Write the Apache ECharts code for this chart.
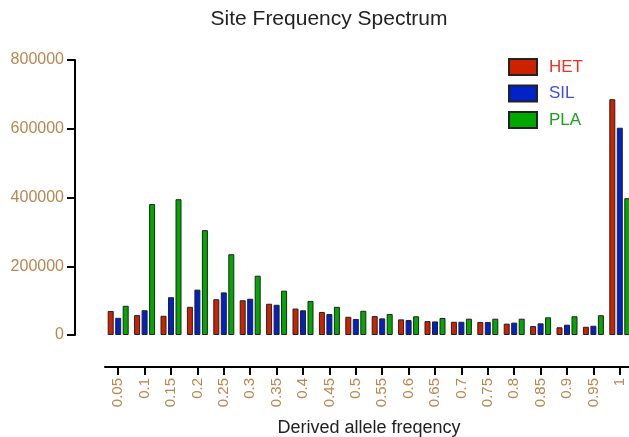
<!DOCTYPE html>
<html>
<head>
<meta charset="utf-8">
<script src="https://cdn.jsdelivr.net/npm/echarts@6/dist/echarts.min.js"></script>
<style>
html,body{margin:0;padding:0;background:#fff;}
#chart{width:629px;height:437px;}
</style>
</head>
<body>
<div id="chart"></div>
<script>
const categories = ['0.05','0.1','0.15','0.2','0.25','0.3','0.35','0.4','0.45','0.5','0.55','0.6','0.65','0.7','0.75','0.8','0.85','0.9','0.95','1'];
const het = [70000, 58000, 56000, 82000, 104000, 101000, 91000, 77000, 67000, 53000, 55000, 45500, 40500, 38500, 38000, 33000, 26000, 22500, 24000, 686000];
const sil = [50000, 72000, 110000, 132000, 124000, 105500, 88000, 72000, 61000, 46500, 48500, 43500, 39500, 38500, 38000, 36000, 34000, 30000, 27000, 603000];
const pla = [85000, 381000, 395000, 305000, 235000, 172500, 129000, 99000, 82000, 70500, 61000, 54500, 49500, 47500, 47500, 47500, 51500, 54500, 57500, 398000];
const yTicks = [0, 200000, 400000, 600000, 800000];

const font = 'Liberation Sans, Arial, Helvetica, sans-serif';
const tan = '#b9864f';
const chart = echarts.init(document.getElementById('chart'), null, {renderer: 'canvas'});

function barSeries(name, data, color) {
  return {
    name: name,
    type: 'bar',
    data: data,
    barWidth: 6,
    barGap: '25%',
    itemStyle: {color: color, borderColor: '#222', borderWidth: 1}
  };
}

chart.setOption({
  animation: false,
  backgroundColor: '#fff',
  title: {
    text: 'Site Frequency Spectrum',
    left: 324,
    textAlign: 'center',
    top: 4,
    textStyle: {fontFamily: font, fontSize: 21, fontWeight: 'normal', color: '#222'}
  },
  legend: {
    orient: 'vertical',
    left: 508,
    top: 58,
    padding: 0,
    icon: 'rect',
    itemWidth: 28,
    itemHeight: 16,
    itemGap: 8.5,
    textStyle: {fontFamily: font, fontSize: 17, padding: [0, 0, 0, 7]},
    data: [
      {name: 'HET', textStyle: {color: '#ee3322'}},
      {name: 'SIL', textStyle: {color: '#3f4fe0'}},
      {name: 'PLA', textStyle: {color: '#1fa01f'}}
    ]
  },
  grid: {left: 105, right: -4, top: 60, bottom: 102, containLabel: false, outerBoundsMode: 'none'},
  xAxis: {
    type: 'category',
    data: categories,
    offset: 32,
    name: 'Derived allele freqency',
    nameLocation: 'middle',
    nameGap: 52,
    nameTextStyle: {fontFamily: font, fontSize: 18, color: '#222'},
    axisLine: {show: true, onZero: false, lineStyle: {color: '#000', width: 2}},
    axisTick: {show: true, interval: 0, alignWithLabel: true, inside: false, length: 8, lineStyle: {color: '#000', width: 2}},
    axisLabel: {rotate: 90, margin: 11, fontFamily: font, fontSize: 15, color: tan, interval: 0}
  },
  yAxis: {
    type: 'value',
    min: yTicks[0],
    max: yTicks[yTicks.length - 1],
    interval: yTicks[1] - yTicks[0],
    offset: 30,
    axisLine: {show: true, onZero: false, lineStyle: {color: '#000', width: 2}},
    axisTick: {show: true, length: 8, lineStyle: {color: '#000', width: 2}},
    splitLine: {show: false},
    axisLabel: {margin: 11, fontFamily: font, fontSize: 16, color: tan, formatter: function (v) { return String(v); }}
  },
  series: [
    barSeries('HET', het, '#cc2200'),
    barSeries('SIL', sil, '#0022c8'),
    barSeries('PLA', pla, '#00a800')
  ]
});
</script>
</body>
</html>
